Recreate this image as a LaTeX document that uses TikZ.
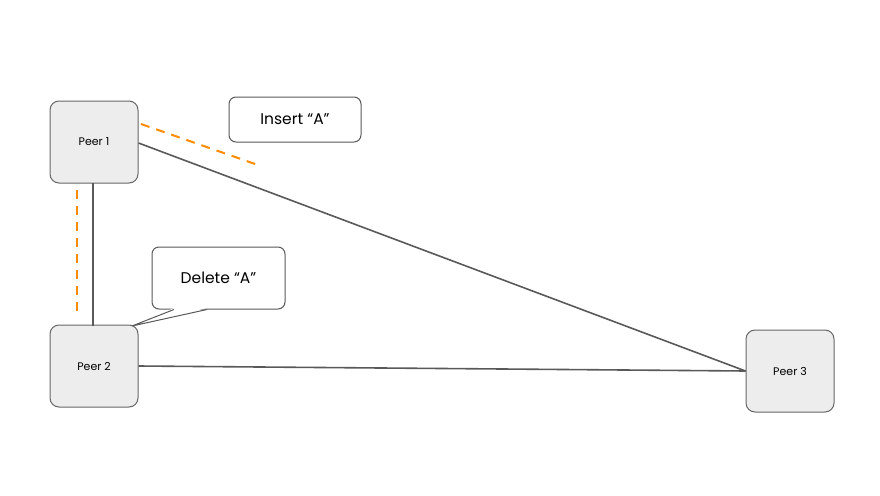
\documentclass[tikz,border=0pt]{standalone}
\usepackage{fontspec}
\setmainfont{Poppins}
\begin{document}
\begin{tikzpicture}[x=1pt,y=-1pt,
  peer/.style={draw=black!60,fill=black!7,rounded corners=9pt,line width=1pt,minimum width=88pt,minimum height=82pt,font=\fontsize{11}{13}\selectfont},
  callout/.style={draw=black!65,fill=white,rounded corners=7pt,line width=1pt,font=\fontsize{15.5}{18}\selectfont},
  link/.style={draw=black!65,line width=1.6pt},
  op/.style={draw=orange!90!yellow,line width=2pt,dash pattern=on 9pt off 7pt}]
\useasboundingbox (0,0) rectangle (880,495);
\node[peer] (p1) at (94,142) {Peer 1};
\node[peer] (p2) at (94,366) {Peer 2};
\node[peer] (p3) at (790,371) {Peer 3};
\draw[link] (p1.east) ++(0,1) -- (p3.west);
\draw[link] (p2.east) -- (p3.west);
\draw[link] (93,183) -- (93,326);
\coordinate (o1) at (141,124); \coordinate (o2) at (258,165);
\draw[op] (o1) -- (o2);
\coordinate (o3) at (77,190); \coordinate (o4) at (77,318);
\draw[op] (o3) -- (o4);
\node[callout,minimum width=132pt,minimum height=45pt] (ins) at (295,119.5) {Insert “A”};
\node[callout,minimum width=133pt,minimum height=62pt] (del) at (218.5,278) {Delete “A”};
\coordinate (tip) at (132,326);
\fill[white] (174,308) -- (tip) -- (207,308) -- cycle;
\draw[black!65,line width=1pt] (174,309.5) -- (tip) -- (207,309.5);
\end{tikzpicture}
\end{document}
